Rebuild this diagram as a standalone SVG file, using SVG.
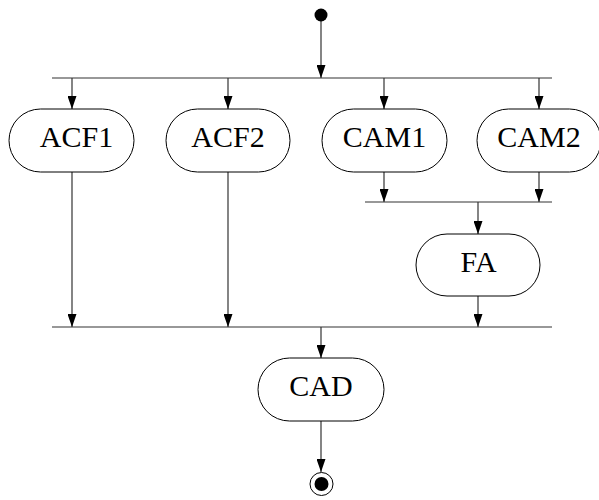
<svg xmlns="http://www.w3.org/2000/svg" width="599" height="500" viewBox="0 0 599 500">
<defs>
<marker id="arr" markerWidth="10" markerHeight="14" refX="4.5" refY="13" orient="0" markerUnits="userSpaceOnUse">
<path d="M0,0 L9,0 L4.5,13 Z" fill="#000"/>
</marker>
<style>
.n{fill:#fff;stroke:#000;stroke-width:1}
.t{font-family:"Liberation Serif","Times New Roman",serif;font-size:30px;text-anchor:middle;fill:#000}
.c line{stroke:#333;stroke-width:1.2}
.c line.a{marker-end:url(#arr)}
</style>
</defs>
<g class="c" id="connectors">
<line class="a" x1="321" y1="15" x2="321" y2="78"/>
<line x1="52" y1="78" x2="552" y2="78"/>
<line class="a" x1="72" y1="78" x2="72" y2="109"/>
<line class="a" x1="228" y1="78" x2="228" y2="109"/>
<line class="a" x1="384" y1="78" x2="384" y2="109"/>
<line class="a" x1="539" y1="78" x2="539" y2="109"/>
<line class="a" x1="384" y1="172" x2="384" y2="202"/>
<line class="a" x1="539" y1="172" x2="539" y2="202"/>
<line x1="365" y1="202" x2="552" y2="202"/>
<line class="a" x1="478" y1="202" x2="478" y2="234"/>
<line class="a" x1="72" y1="172" x2="72" y2="327"/>
<line class="a" x1="228" y1="172" x2="228" y2="327"/>
<line class="a" x1="478" y1="296" x2="478" y2="327"/>
<line x1="52" y1="327" x2="552" y2="327"/>
<line class="a" x1="321" y1="327" x2="321" y2="358"/>
<line class="a" x1="321" y1="421" x2="321" y2="472"/>
</g>
<g id="start"><circle cx="321" cy="15" r="6.5" fill="#000"/></g>
<g id="ACF1"><rect class="n" x="9" y="109" width="125" height="63" rx="31.5"/><text class="t" x="76.5" y="147">ACF1</text></g>
<g id="ACF2"><rect class="n" x="166" y="109" width="124" height="63" rx="31.5"/><text class="t" x="228" y="147">ACF2</text></g>
<g id="CAM1"><rect class="n" x="322" y="109" width="125" height="63" rx="31.5"/><text class="t" x="384.5" y="147">CAM1</text></g>
<g id="CAM2"><rect class="n" x="477" y="109" width="124" height="63" rx="31.5"/><text class="t" x="539" y="147">CAM2</text></g>
<g id="FA"><rect class="n" x="416" y="234" width="124" height="62" rx="31"/><text class="t" x="478.5" y="272">FA</text></g>
<g id="CAD"><rect class="n" x="258" y="358" width="126" height="63" rx="31.5"/><text class="t" x="321" y="396">CAD</text></g>
<g id="end"><circle cx="321.5" cy="484" r="11.5" fill="#fff" stroke="#000" stroke-width="1"/><circle cx="321.5" cy="484" r="7" fill="#000"/></g>
</svg>
